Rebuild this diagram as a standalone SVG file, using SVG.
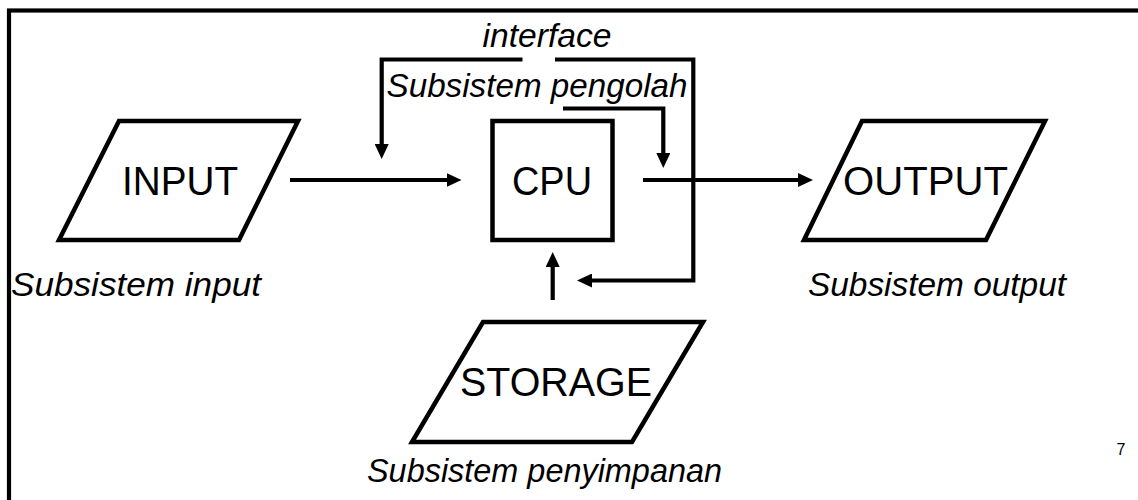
<svg xmlns="http://www.w3.org/2000/svg" width="1138" height="500" viewBox="0 0 1138 500">
  <defs>
    <style>
      .shape { fill: #ffffff; stroke: #000000; stroke-width: 4.5; stroke-linejoin: miter; }
      .box-label { font-family: "Liberation Sans", Arial, sans-serif; font-size: 41px; fill: #000000; text-anchor: middle; }
      .caption { font-family: "Liberation Sans", Arial, sans-serif; font-size: 34px; font-style: italic; fill: #000000; text-anchor: middle; }
      .conn { fill: none; stroke: #000000; stroke-width: 4.2; stroke-linejoin: miter; stroke-linecap: butt; }
      .page { font-family: "Liberation Sans", Arial, sans-serif; font-size: 16px; fill: #000000; text-anchor: middle; }
    </style>
    <marker id="arrow" viewBox="0 0 15 14" markerWidth="15" markerHeight="14" refX="9" refY="7" orient="auto" markerUnits="userSpaceOnUse">
      <path d="M0,0 L15,7 L0,14 Z" fill="#000000"/>
    </marker>
  </defs>

  <rect x="0" y="0" width="1138" height="500" fill="#ffffff"/>
  <rect id="frame" x="9" y="10.5" width="1200" height="600" fill="none" stroke="#000000" stroke-width="4.2"/>

  <g id="input">
    <polygon class="shape" points="119,121 298,121 239,240 59,240"/>
    <text class="box-label" x="180" y="195" textLength="116" lengthAdjust="spacingAndGlyphs">INPUT</text>
    <text class="caption" x="136" y="296" textLength="250" lengthAdjust="spacingAndGlyphs">Subsistem input</text>
  </g>

  <g id="cpu">
    <rect class="shape" x="492.5" y="121" width="120" height="119"/>
    <text class="box-label" x="552" y="195" textLength="80" lengthAdjust="spacingAndGlyphs">CPU</text>
    <text class="caption" x="537" y="97" textLength="301" lengthAdjust="spacingAndGlyphs">Subsistem pengolah</text>
  </g>

  <g id="output">
    <polygon class="shape" points="862,121 1045,121 986,240 804,240"/>
    <text class="box-label" x="925.5" y="195" textLength="165" lengthAdjust="spacingAndGlyphs">OUTPUT</text>
    <text class="caption" x="937" y="296" textLength="258" lengthAdjust="spacingAndGlyphs">Subsistem output</text>
  </g>

  <g id="storage">
    <polygon class="shape" points="483,322 703,322 632,442 412,442"/>
    <text class="box-label" x="556" y="396" textLength="192" lengthAdjust="spacingAndGlyphs">STORAGE</text>
    <text class="caption" x="544.5" y="482" textLength="355" lengthAdjust="spacingAndGlyphs">Subsistem penyimpanan</text>
  </g>

  <g id="interface">
    <text class="caption" x="547" y="47" textLength="129" lengthAdjust="spacingAndGlyphs">interface</text>
  </g>

  <g id="connectors">
    <path class="conn" d="M290,180 L455.5,180" marker-end="url(#arrow)"/>
    <path class="conn" d="M643,180 L807,180" marker-end="url(#arrow)"/>
    <path class="conn" d="M522.5,59.5 L381.7,59.5 L381.7,153" marker-end="url(#arrow)"/>
    <path class="conn" d="M555,59.5 L693.3,59.5 L693.3,280.5 L583,280.5" marker-end="url(#arrow)"/>
    <path class="conn" d="M563,108.5 L663.3,108.5 L663.3,162" marker-end="url(#arrow)"/>
    <path class="conn" d="M552.7,300 L552.7,258" marker-end="url(#arrow)"/>
  </g>

  <text class="page" x="1121" y="455">7</text>
</svg>
